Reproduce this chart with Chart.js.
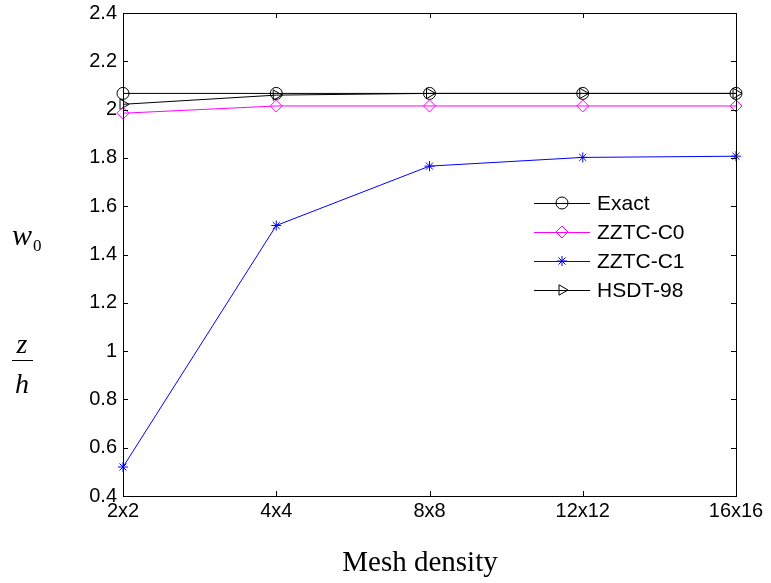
<!DOCTYPE html>
<html>
<head>
<meta charset="utf-8">
<script src="https://cdn.jsdelivr.net/npm/chart.js@4/dist/chart.umd.min.js"></script>
<style>
  html, body { margin: 0; padding: 0; background: #fff; }
  #wrap { width: 771px; height: 583px; }
</style>
</head>
<body>
<div id="wrap"><canvas id="chart" width="771" height="583"></canvas></div>
<script>
const meshLabels = ['2x2', '4x4', '8x8', '12x12', '16x16'];
const exact   = [2.067, 2.067, 2.067, 2.067, 2.067];
const zztcC0  = [1.985, 2.015, 2.015, 2.015, 2.015];
const zztcC1  = [0.52, 1.52, 1.766, 1.802, 1.807];
const hsdt98  = [2.022, 2.060, 2.067, 2.067, 2.067];

const sansFont = "'Liberation Sans', Arial, sans-serif";
const serifFont = "'Liberation Serif', 'Times New Roman', serif";

// box around the plot with inward ticks on all four sides
const boxTicks = {
    id: 'boxTicks',
    afterDatasetsDraw(chart) {
        const { ctx, chartArea: a, scales } = chart;
        ctx.save();
        ctx.strokeStyle = '#000';
        ctx.lineWidth = 1;
        ctx.strokeRect(a.left + 0.5, a.top + 0.5, a.right - a.left, a.bottom - a.top);
        const len = 5;
        ctx.beginPath();
        scales.y.ticks.forEach((t, i) => {
            const y = Math.round(scales.y.getPixelForTick(i)) + 0.5;
            ctx.moveTo(a.left, y); ctx.lineTo(a.left + len, y);
            ctx.moveTo(a.right, y); ctx.lineTo(a.right - len, y);
        });
        scales.x.ticks.forEach((t, i) => {
            const x = Math.round(scales.x.getPixelForTick(i)) + 0.5;
            ctx.moveTo(x, a.bottom); ctx.lineTo(x, a.bottom - len);
            ctx.moveTo(x, a.top); ctx.lineTo(x, a.top + len);
        });
        ctx.stroke();
        ctx.restore();
    }
};

// legend without frame, line + marker + text
const lineLegend = {
    id: 'lineLegend',
    afterDraw(chart) {
        const { ctx } = chart;
        ctx.save();
        ctx.textBaseline = 'middle';
        chart.data.datasets.forEach((ds, i) => {
            const y = 203 + i * 29;
            ctx.strokeStyle = ds.borderColor;
            ctx.lineWidth = 1;
            ctx.beginPath();
            ctx.moveTo(534, y + 0.5); ctx.lineTo(590, y + 0.5);
            ctx.stroke();
            ctx.fillStyle = 'rgba(0,0,0,0)';
            Chart.helpers.drawPoint(ctx, {
                pointStyle: ds.pointStyle,
                radius: ds.pointRadius,
                rotation: ds.pointRotation || 0,
                borderWidth: 1
            }, 562, y);
            ctx.fillStyle = '#000';
            ctx.font = '21px ' + sansFont;
            ctx.fillText(ds.label, 597, y + 1);
        });
        ctx.restore();
    }
};

// axis titles: w0 and z/h on the left, Mesh density below
const axisTitles = {
    id: 'axisTitles',
    afterDraw(chart) {
        const { ctx } = chart;
        ctx.save();
        ctx.fillStyle = '#000';
        ctx.textBaseline = 'alphabetic';
        ctx.font = 'italic 30px ' + serifFont;
        ctx.fillText('w', 12, 245);
        ctx.font = '17px ' + serifFont;
        ctx.fillText('0', 33, 251);
        ctx.textAlign = 'center';
        ctx.font = 'italic 28px ' + serifFont;
        ctx.fillText('z', 22, 353);
        ctx.fillText('h', 22, 393);
        ctx.strokeStyle = '#000';
        ctx.lineWidth = 1;
        ctx.beginPath();
        ctx.moveTo(12, 360.5); ctx.lineTo(33, 360.5);
        ctx.stroke();
        ctx.font = '29px ' + serifFont;
        ctx.fillText('Mesh density', 420, 571);
        ctx.restore();
    }
};

function makeSet(label, data, color, style, radius, rotation) {
    return {
        label: label,
        data: data,
        borderColor: color,
        backgroundColor: 'transparent',
        borderWidth: 1,
        pointStyle: style,
        pointRadius: radius,
        pointRotation: rotation || 0,
        pointBorderColor: color,
        pointBackgroundColor: 'transparent',
        pointBorderWidth: 1,
        tension: 0
    };
}

new Chart(document.getElementById('chart'), {
    type: 'line',
    data: {
        labels: meshLabels,
        datasets: [
            makeSet('Exact', exact, '#000000', 'circle', 6),
            makeSet('ZZTC-C0', zztcC0, '#ff00ff', 'rectRot', 6),
            makeSet('ZZTC-C1', zztcC1, '#0000ff', 'star', 5),
            makeSet('HSDT-98', hsdt98, '#000000', 'triangle', 6, 90)
        ]
    },
    options: {
        responsive: false,
        animation: false,
        layout: { padding: { left: 0, right: 35, top: 13, bottom: 0 } },
        plugins: {
            legend: { display: false },
            tooltip: { enabled: false }
        },
        scales: {
            x: {
                offset: false,
                grid: { display: false, drawTicks: false },
                border: { display: false },
                ticks: { color: '#000', font: { family: sansFont, size: 20 }, padding: 3, maxRotation: 0, autoSkip: false },
                afterFit(scale) {
                    scale.height = 87;
                    scale.paddingLeft = 0;
                    scale.paddingRight = 0;
                }
            },
            y: {
                min: 0.4,
                max: 2.4,
                grid: { display: false, drawTicks: false },
                border: { display: false },
                ticks: {
                    stepSize: 0.2,
                    color: '#000',
                    font: { family: sansFont, size: 20 },
                    padding: 6,
                    callback: v => Math.round(v * 10) / 10
                },
                afterFit(scale) {
                    scale.width = 123;
                    scale.paddingTop = 0;
                    scale.paddingBottom = 0;
                }
            }
        }
    },
    plugins: [boxTicks, lineLegend, axisTitles]
});
</script>
</body>
</html>
